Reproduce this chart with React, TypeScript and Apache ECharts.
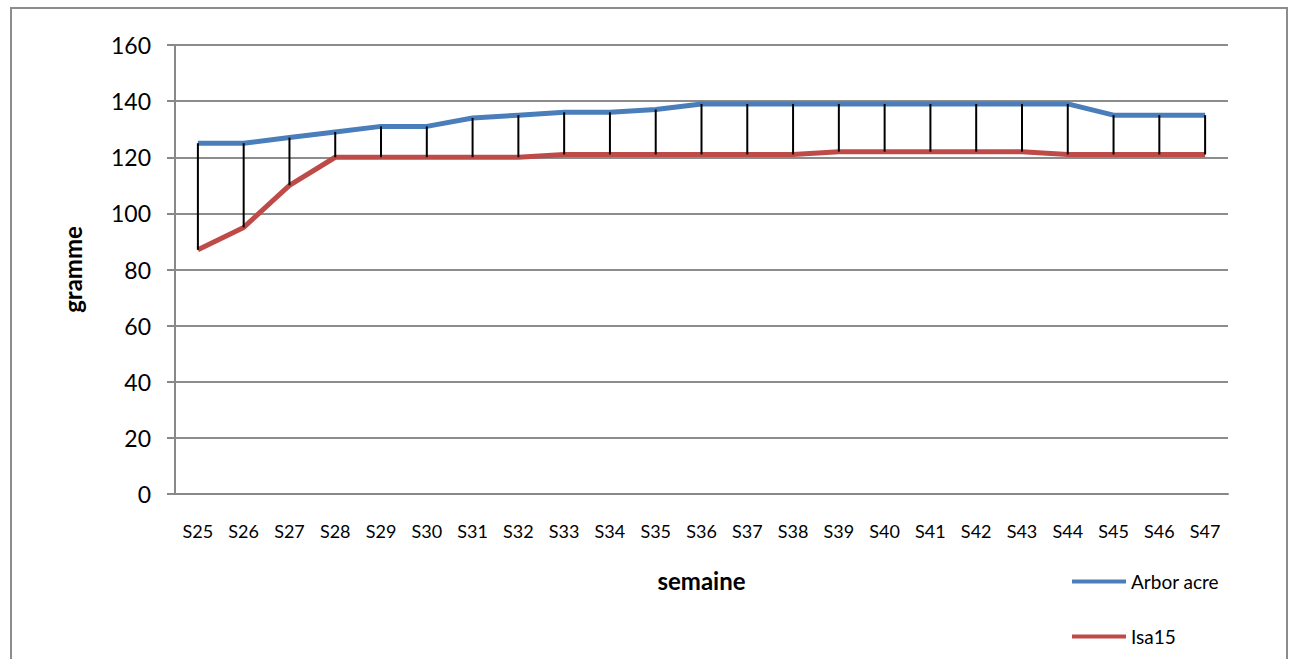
import React, { useEffect, useRef } from "react";
import * as echarts from "echarts";

const categories = ["S25","S26","S27","S28","S29","S30","S31","S32","S33","S34","S35","S36","S37","S38","S39","S40","S41","S42","S43","S44","S45","S46","S47"];
const arborAcre = [125,125,127,129,131,131,134,135,136,136,137,139,139,139,139,139,139,139,139,139,135,135,135];
const isa15 = [87,95,110,120,120,120,120,120,121,121,121,121,121,121,122,122,122,122,122,121,121,121,121];
const yTicks = { min: 0, max: 160, interval: 20 };

const FONT = "Lato";

export default function App() {
  const ref = useRef<HTMLDivElement>(null);
  useEffect(() => {
    const chart = echarts.init(ref.current!, null, { renderer: "svg" });
    const hl = categories.map((_, i) => [i, isa15[i], arborAcre[i]]);
    chart.setOption({
      animation: false,
      textStyle: { fontFamily: FONT },
      graphic: [
        {
          type: "rect",
          shape: { x: 11, y: 8, width: 1276, height: 700 },
          style: { fill: "none", stroke: "#8c8c8c", lineWidth: 2 },
          silent: true,
        },
      ],
      grid: { left: 175, right: 68, top: 45, bottom: 165 },
      legend: {
        orient: "vertical",
        left: 1067,
        top: 567,
        itemWidth: 54,
        itemHeight: 16,
        itemGap: 36,
        data: ["Arbor acre", "Isa15"],
        textStyle: { fontFamily: FONT, fontSize: 19, color: "#000" },
        icon: "path://M0,7 L54,7 L54,11 L0,11 Z",
      },
      xAxis: {
        type: "category",
        data: categories,
        boundaryGap: true,
        name: "semaine",
        nameLocation: "middle",
        nameGap: 74,
        nameTextStyle: { fontFamily: FONT, fontSize: 24, fontWeight: "bold", color: "#000" },
        axisLine: { lineStyle: { color: "#888", width: 2 } },
        axisTick: { show: false },
        axisLabel: { fontFamily: FONT, fontSize: 18, color: "#000", margin: 28, interval: 0 },
      },
      yAxis: {
        type: "value",
        min: yTicks.min,
        max: yTicks.max,
        interval: yTicks.interval,
        name: "gramme",
        nameLocation: "middle",
        nameGap: 91,
        nameTextStyle: { fontFamily: FONT, fontSize: 24, fontWeight: "bold", color: "#000" },
        axisLine: { show: true, lineStyle: { color: "#888", width: 2 } },
        axisTick: { show: true, length: 8, lineStyle: { color: "#888", width: 2 } },
        axisLabel: { fontFamily: FONT, fontSize: 23, color: "#000", margin: 24 },
        splitLine: { lineStyle: { color: "#8c8c8c", width: 2 } },
      },
      series: [
        {
          name: "Arbor acre",
          type: "line",
          data: arborAcre,
          symbol: "none",
          lineStyle: { color: "#4a7ebb", width: 5 },
          itemStyle: { color: "#4a7ebb" },
          z: 2,
        },
        {
          name: "Isa15",
          type: "line",
          data: isa15,
          symbol: "none",
          lineStyle: { color: "#be4b48", width: 5 },
          itemStyle: { color: "#be4b48" },
          z: 2,
        },
        {
          name: "hl",
          type: "custom",
          data: hl,
          z: 3,
          renderItem: (params: any, api: any) => {
            const p1 = api.coord([api.value(0), api.value(1)]);
            const p2 = api.coord([api.value(0), api.value(2)]);
            return {
              type: "line",
              shape: { x1: p1[0], y1: p1[1], x2: p2[0], y2: p2[1] },
              style: { stroke: "#000", lineWidth: 2 },
            };
          },
        },
      ],
    });
    return () => chart.dispose();
  }, []);
  return (
    <div
      ref={ref}
      style={{ position: "fixed", left: 0, top: 0, width: 1296, height: 659, background: "#fff" }}
    />
  );
}
